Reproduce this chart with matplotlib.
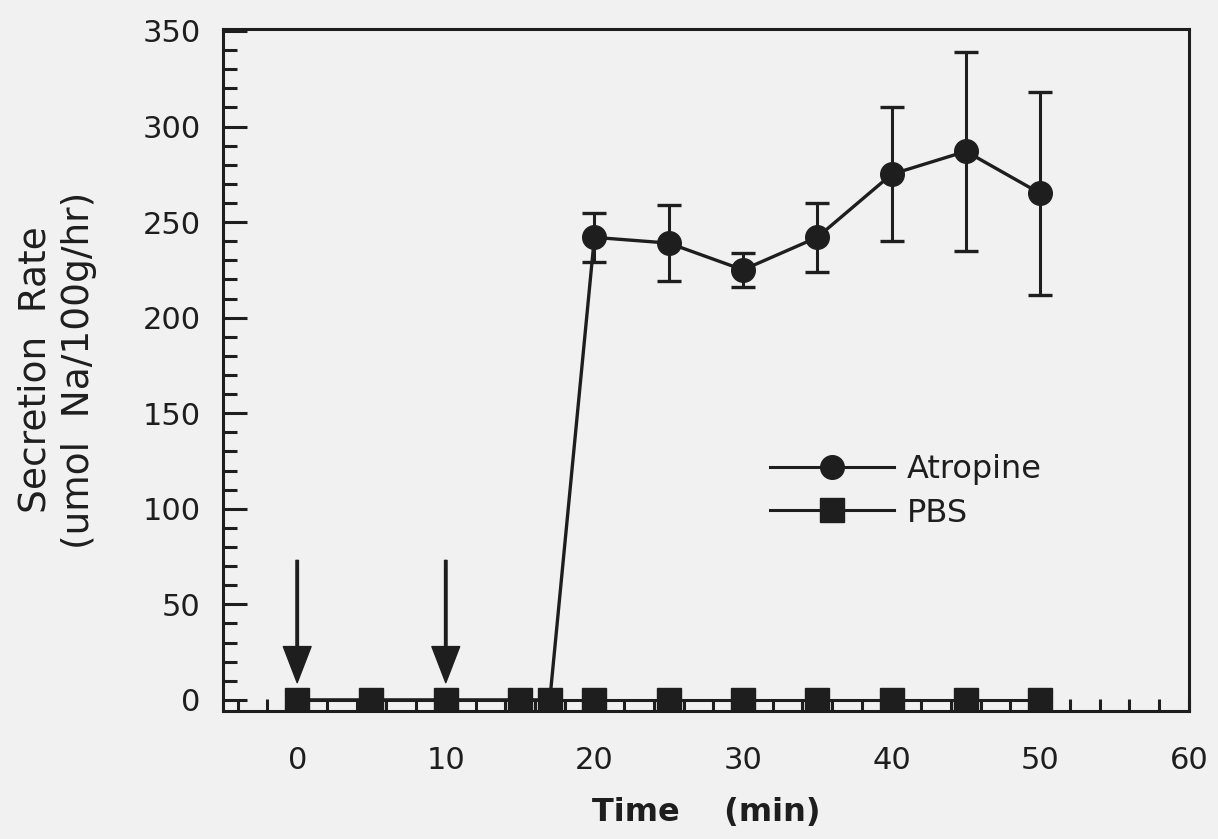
import numpy as np
import matplotlib
matplotlib.use("Agg")
import matplotlib.pyplot as plt
from matplotlib.ticker import MultipleLocator
from matplotlib.lines import Line2D

# datos
tiempo = [0, 5, 10, 15, 17, 20, 25, 30, 35, 40, 45, 50]
atropina = [0, 0, 0, 0, 0, 242, 239, 225, 242, 275, 287, 265]
atropina_err = [0, 0, 0, 0, 0, 13, 20, 9, 18, 35, 52, 53]
pbs = [0, 0, 0, 0, 0, 0, 0, 0, 0, 0, 0, 0]
flechas_x = [0, 10]

fondo = '#f1f1f1'
tinta = '#1e1e1e'

plt.rcParams['font.family'] = ['DejaVu Sans']

fig = plt.figure(figsize=(12.18, 8.39), dpi=100, facecolor=fondo)
ax = fig.add_axes([0.183, 0.1526, 0.793, 0.8128])
ax.set_facecolor(fondo)

# Atropine (circulos con barras de error)
ax.errorbar(tiempo, atropina, yerr=atropina_err, color=tinta, lw=2.4,
            marker='o', markersize=17, capsize=8.5, capthick=2.4,
            elinewidth=2.2, zorder=3)

# PBS (cuadrados) encima
ax.plot(tiempo, pbs, color=tinta, lw=2.2, marker='s', markersize=17,
        zorder=4)

# flechas de administracion
for fx in flechas_x:
    ax.annotate('', xy=(fx, 9), xytext=(fx, 73),
                arrowprops=dict(facecolor=tinta, edgecolor=tinta, width=1.8,
                                headwidth=20, headlength=26, shrink=0))

ax.set_xlim(-5, 60)
ax.set_ylim(-5.8, 351)

ax.xaxis.set_major_locator(MultipleLocator(10))
ax.xaxis.set_minor_locator(MultipleLocator(2))
ax.yaxis.set_major_locator(MultipleLocator(50))
ax.yaxis.set_minor_locator(MultipleLocator(10))

ax.tick_params(axis='y', which='major', direction='in', length=17, width=2.2,
               color=tinta, labelsize=22, labelcolor=tinta, pad=16)
ax.tick_params(axis='y', which='minor', direction='in', length=10, width=2.2,
               color=tinta)
ax.tick_params(axis='x', which='both', direction='in', length=9, width=2.2,
               color=tinta, labelsize=22, labelcolor=tinta, pad=25)

for s in ax.spines.values():
    s.set_linewidth(2.2)
    s.set_color(tinta)

ax.set_xlabel('Time    (min)', fontsize=23, fontweight='bold', color=tinta,
              labelpad=16)
ax.set_ylabel('Secretion  Rate\n(umol  Na/100g/hr)', fontsize=27,
              color=tinta, labelpad=33, linespacing=1.25)

manejadores = [
    Line2D([], [], color=tinta, lw=2.2, marker='o', markersize=17),
    Line2D([], [], color=tinta, lw=2.2, marker='s', markersize=17),
]
leg = ax.legend(manejadores, ['Atropine', 'PBS'], loc='upper left',
                bbox_to_anchor=(0.632, 0.459), bbox_transform=fig.transFigure,
                frameon=False, fontsize=23, handlelength=3.9,
                handletextpad=0.4, labelspacing=0.4, borderpad=0,
                borderaxespad=0)
for t in leg.get_texts():
    t.set_color(tinta)

fig.savefig('out.png', dpi=100, facecolor=fondo)
